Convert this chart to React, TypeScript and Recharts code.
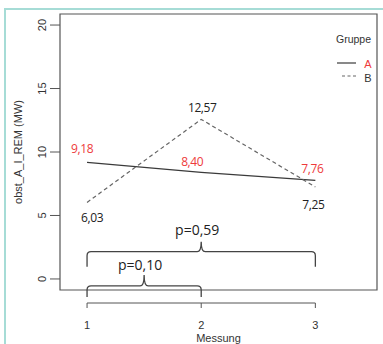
import React from "react";
import {
  LineChart,
  Line,
  XAxis,
  YAxis,
  ReferenceLine,
  ReferenceArea,
  LabelList,
} from "recharts";

// Messzeitpunkte und Mittelwerte je Gruppe
const MESSUNG = [1, 2, 3];
const GRUPPE_A = [9.18, 8.4, 7.76];
const GRUPPE_B = [6.03, 12.57, 7.25];
const Y_TICKS = [0, 5, 10, 15, 20];
const X_TICKS = [1, 2, 3];

// Vergleiche (Klammern) mit p-Werten
const VERGLEICHE = [
  { from: 1, to: 3, p: "p=0,59" },
  { from: 1, to: 2, p: "p=0,10" },
];

// Layout / Stil
const W = 383;
const H = 344;
const PLOT = { left: 60, top: 14, right: 377, bottom: 290 };
const X_DOMAIN = [0.763, 3.54];
const Y_DOMAIN = [-0.87, 20.87];
const RED = "#ee3b3b";
const DARK = "#333";
const AXIS_FONT = "'Liberation Sans', Arial, sans-serif";
const NOTE_FONT = "'Open Sans', 'Noto Sans', sans-serif";

// label offsets (px) relative to the point
const OFFSETS_A = [
  [-5, -14],
  [-9, -11],
  [-3, -12],
];
const OFFSETS_B = [
  [5, 15],
  [1, -12],
  [-2, 18],
];
// bracket placement: y in data units, drop/tip in px
const BRACKET_STYLE = [
  { y: 2.15, drop: 15, tip: 10, textUp: 22 },
  { y: -0.55, drop: 11, tip: 11, textUp: 21 },
];

const data = MESSUNG.map((m, i) => ({ m, a: GRUPPE_A[i], b: GRUPPE_B[i] }));

const fmt = (v: number) => v.toFixed(2).replace(".", ",");

const SERIES = [
  { key: "a", name: "A", color: "#3a3a3a", dash: undefined, labelColor: RED, offsets: OFFSETS_A },
  { key: "b", name: "B", color: "#666", dash: "4 3", labelColor: "#222", offsets: OFFSETS_B },
];

const YTick = (props: any) => {
  const { y, payload } = props;
  return (
    <g>
      <line x1={PLOT.left - 10} x2={PLOT.left} y1={y} y2={y} stroke="#555" />
      <text
        x={42}
        y={y}
        transform={`rotate(-90 42 ${y})`}
        textAnchor="middle"
        dominantBaseline="central"
        fontSize={11}
        fontFamily={AXIS_FONT}
        fill={DARK}
      >
        {payload.value}
      </text>
    </g>
  );
};

const XTick = (props: any) => {
  const { x, payload } = props;
  return (
    <g>
      <line x1={x} x2={x} y1={PLOT.bottom + 13} y2={PLOT.bottom + 18} stroke="#555" />
      <text
        x={x}
        y={PLOT.bottom + 35}
        textAnchor="middle"
        dominantBaseline="central"
        fontSize={11}
        fontFamily={AXIS_FONT}
        fill={DARK}
      >
        {payload.value}
      </text>
    </g>
  );
};

const makeLabel = (color: string, offsets: number[][]) => (props: any) => {
  const { x, y, value, index } = props;
  const [dx, dy] = offsets[index] || [0, -10];
  return (
    <text
      x={x + dx}
      y={y + dy}
      textAnchor="middle"
      dominantBaseline="central"
      fontSize={12}
      letterSpacing={-0.4}
      fontFamily={NOTE_FONT}
      fill={color}
    >
      {fmt(value)}
    </text>
  );
};

const Bracket = (props: any) => {
  const { x1, x2, y1, label, drop, tip, textUp } = props;
  const y = y1;
  const xm = (x1 + x2) / 2;
  const r = 4;
  const d = `M${x1},${y + drop} L${x1},${y + r} Q${x1},${y} ${x1 + r},${y} L${xm - 4},${y} Q${xm},${y} ${xm},${y - tip} Q${xm},${y} ${xm + 4},${y} L${x2 - r},${y} Q${x2},${y} ${x2},${y + r} L${x2},${y + drop}`;
  return (
    <g>
      <path d={d} fill="none" stroke="#444" strokeWidth={1.3} />
      <text
        x={xm - 4}
        y={y - textUp}
        textAnchor="middle"
        dominantBaseline="central"
        fontSize={14}
        fontFamily={NOTE_FONT}
        fill="#222"
      >
        {label}
      </text>
    </g>
  );
};

const BaseLine = (props: any) => {
  const { x1, x2 } = props;
  const y = PLOT.bottom + 13;
  return <line x1={x1} x2={x2} y1={y} y2={y} stroke="#555" />;
};

export default function App() {
  return (
    <div
      style={{
        position: "absolute",
        left: 0,
        top: 0,
        width: W,
        height: H,
        overflow: "hidden",
        background: "#fff",
      }}
    >
      {/* Rahmen */}
      <div
        style={{
          position: "absolute",
          left: 4,
          top: 8,
          width: 420,
          height: 420,
          border: "2px solid #a6dcd6",
        }}
      />
      <div style={{ position: "absolute", left: 0, top: 0 }}>
        <LineChart
          width={W}
          height={H}
          data={data}
          margin={{ top: PLOT.top, right: W - PLOT.right, bottom: 0, left: 0 }}
        >
          <XAxis
            dataKey="m"
            type="number"
            domain={X_DOMAIN}
            ticks={X_TICKS}
            interval={0}
            allowDataOverflow
            height={H - PLOT.bottom}
            axisLine={false}
            tickLine={false}
            tick={(p: any) => <XTick {...p} />}
          />
          <YAxis
            type="number"
            domain={Y_DOMAIN}
            ticks={Y_TICKS}
            interval={0}
            allowDataOverflow
            width={PLOT.left}
            axisLine={false}
            tickLine={false}
            tick={(p: any) => <YTick {...p} />}
          />
          <ReferenceArea
            x1={X_DOMAIN[0]}
            x2={X_DOMAIN[1]}
            y1={Y_DOMAIN[0]}
            y2={Y_DOMAIN[1]}
            fill="none"
            fillOpacity={0}
            stroke="#555"
            strokeWidth={1.2}
            ifOverflow="visible"
          />
          <ReferenceLine
            segment={[
              { x: X_TICKS[0], y: Y_DOMAIN[0] },
              { x: X_TICKS[X_TICKS.length - 1], y: Y_DOMAIN[0] },
            ]}
            ifOverflow="visible"
            shape={(p: any) => <BaseLine {...p} />}
          />
          {VERGLEICHE.map((v, i) => (
            <ReferenceLine
              key={v.p}
              segment={[
                { x: v.from, y: BRACKET_STYLE[i].y },
                { x: v.to, y: BRACKET_STYLE[i].y },
              ]}
              ifOverflow="visible"
              shape={(p: any) => <Bracket {...p} label={v.p} {...BRACKET_STYLE[i]} />}
            />
          ))}
          {SERIES.map((s) => (
            <Line
              key={s.key}
              dataKey={s.key}
              name={s.name}
              stroke={s.color}
              strokeWidth={1.2}
              strokeDasharray={s.dash}
              dot={false}
              isAnimationActive={false}
            >
              <LabelList dataKey={s.key} content={makeLabel(s.labelColor, s.offsets)} />
            </Line>
          ))}
        </LineChart>
      </div>
      {/* Legende */}
      <div
        style={{
          position: "absolute",
          left: 336,
          top: 32,
          fontFamily: AXIS_FONT,
          fontSize: 10.5,
          color: DARK,
        }}
      >
        <div style={{ height: 14, lineHeight: "14px" }}>Gruppe</div>
        <svg width={45} height={32} style={{ display: "block", marginTop: 11 }}>
          {SERIES.map((s, i) => (
            <g key={s.key}>
              <line
                x1={i === 0 ? 1 : 6}
                x2={20}
                y1={6 + i * 13}
                y2={6 + i * 13}
                stroke={s.color}
                strokeWidth={1.2}
                strokeDasharray={s.dash ? "3 2.5" : undefined}
              />
              <text
                x={32}
                y={7 + i * 14}
                textAnchor="middle"
                dominantBaseline="central"
                fontSize={11}
                fontFamily={AXIS_FONT}
                fill={i === 0 ? RED : DARK}
              >
                {s.name}
              </text>
            </g>
          ))}
        </svg>
      </div>
      {/* Achsentitel */}
      <div
        style={{
          position: "absolute",
          left: 0,
          top: 0,
          width: W,
          height: H,
          pointerEvents: "none",
        }}
      >
        <svg width={W} height={H}>
          <text
            x={(PLOT.left + PLOT.right) / 2}
            y={338}
            textAnchor="middle"
            dominantBaseline="central"
            fontSize={11}
            fontFamily={AXIS_FONT}
            fill={DARK}
          >
            Messung
          </text>
          <text
            x={18}
            y={(PLOT.top + PLOT.bottom) / 2}
            transform={`rotate(-90 18 ${(PLOT.top + PLOT.bottom) / 2})`}
            textAnchor="middle"
            dominantBaseline="central"
            fontSize={11}
            fontFamily={AXIS_FONT}
            fill={DARK}
          >
            obst_A_I_REM (MW)
          </text>
        </svg>
      </div>
    </div>
  );
}
